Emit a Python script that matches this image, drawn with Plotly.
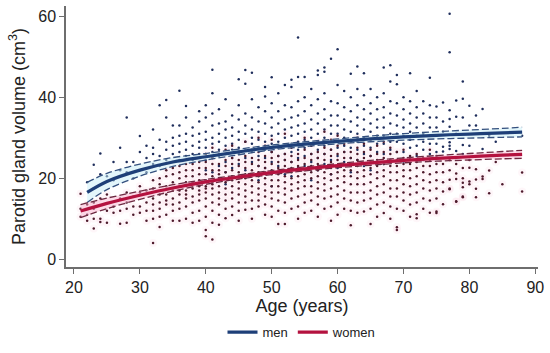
import plotly.graph_objects as go

# ---------------- data ----------------
men_points = [
    (22, [19]), (23, [23.3, 17.5]), (24, [26.1, 21]), (25, [20.5]), (26, [24, 19.5]),
    (27, [22, 27.5]), (28, [35, 21.5, 24]), (29, [24, 20]), (30, [30.4, 26.5, 22]),
    (31, [25, 21.5, 28]), (32, [32, 27.5, 23.5, 26]), (33, [38, 29.5, 25.5, 23]),
    (34, [39.3, 35, 27, 24.5, 29]), (35, [30, 28, 26, 24, 33]),
    (36, [41.6, 30.5, 28.5, 26.5, 24.5, 33]), (37, [37.8, 31, 29, 27, 25.5, 35]),
    (38, [30.5, 28, 26, 32.5, 24.5]), (39, [31, 29, 27.5, 26, 34, 36.5]),
    (40, [38, 35, 31.5, 29.5, 27.5, 26, 24.5, 22, 19.5]),
    (41, [46.8, 41, 36, 33, 30, 28.5, 26.5, 25, 21.5]),
    (42, [37, 33.5, 31, 29, 27, 25.5, 23, 20]),
    (43, [39.5, 34, 32, 30, 28, 26, 24, 21.5, 18.5]),
    (44, [35.5, 32.5, 30.5, 28.5, 27, 25, 22.5]),
    (45, [44.4, 38, 34.5, 31.5, 29.5, 27.5, 26, 23.5, 20.5]),
    (46, [46.7, 43.3, 36, 33, 31, 29, 27, 25, 22]),
    (47, [46, 39.5, 35, 32, 30, 28.5, 26.5, 24, 21]),
    (48, [37.5, 34, 31.5, 29.5, 27.5, 25.5, 23, 19.5]),
    (49, [42.5, 40.2, 36.5, 33.5, 31, 29, 27, 25, 22.5]),
    (50, [44.9, 38.5, 35, 32.5, 30.5, 28.5, 26.5, 24, 21.5, 18]),
    (51, [41, 36.5, 33.5, 31, 29, 27.5, 25.5, 23]),
    (52, [43, 38, 34.5, 32, 30, 28, 26, 24.5, 21]),
    (53, [44.3, 42.5, 37.5, 35, 32.5, 30.5, 28.5, 26.5, 24, 20.5]),
    (54, [54.7, 45, 39, 35.5, 33, 31, 29, 27, 25, 22.5]),
    (55, [45, 40, 36.5, 33.5, 31.5, 29.5, 27.5, 25.5, 23]),
    (56, [42, 38, 34.5, 32, 30, 28, 26, 24, 19.5]),
    (57, [46.6, 45.5, 39.5, 36, 33.5, 31, 29, 27, 25, 22]),
    (58, [47.3, 46.3, 41, 37, 34.5, 32, 30, 28, 26, 23.5]),
    (59, [49.5, 39, 35.5, 33, 31, 29, 27, 24.5, 21]),
    (60, [51.8, 43, 38.5, 35.5, 33, 31, 29, 27.5, 25.5, 22.5]),
    (61, [41.5, 37.5, 34.5, 32, 30, 28, 26.5, 24]),
    (62, [45.8, 40, 36.5, 34, 31.5, 29.5, 27.5, 25, 21.5]),
    (63, [47.6, 42, 38, 35, 33, 31, 29, 27, 24.5]),
    (64, [45.9, 40.5, 37, 34.5, 32, 30, 28, 26, 23]),
    (65, [42, 38.5, 36, 33.5, 31.5, 29.5, 27.5, 25.5, 22]),
    (66, [40, 37, 34.5, 32.5, 30.5, 28.5, 26.5, 24]),
    (67, [47.3, 41, 37.5, 35, 32.5, 30.5, 28.5, 26, 23.5]),
    (68, [47.9, 43.9, 39, 36, 33.5, 31, 29, 27, 24.5]),
    (69, [45.5, 43.2, 38.5, 35.5, 33, 31, 29, 26.5]),
    (70, [40, 37, 34.5, 32.5, 30.5, 28.5, 26.5, 24]),
    (71, [45.9, 39, 36, 33.5, 31.5, 29.5, 27.5, 25]),
    (72, [41.5, 37.5, 35, 32.5, 30.5, 28, 25.5]),
    (73, [39, 36, 33.5, 31, 29, 27, 24.5]),
    (74, [44.8, 38, 35, 32.5, 30.5, 28.5, 26]),
    (75, [37.7, 35, 32.5, 30.5, 28.5, 26.5]),
    (76, [38.7, 34, 31.5, 27.8, 26.6]),
    (77, [60.6, 51.1, 36.8, 34.6, 32.7, 28.9, 28, 27.2]),
    (78, [39.2, 35.2, 31, 26.7]),
    (79, [43.9, 39.6, 35, 28.2, 26]),
    (80, [37.9, 33, 28]), (81, [35.5, 33]), (82, [37.1, 27.2]),
    (83, [30.5]), (84, [29]), (88, [30.5]),
]

women_points = [
    (21, [16.2, 12.5, 10.5]), (22, [13.5, 11, 9.5]), (23, [7.6, 14, 12.5, 10]),
    (24, [15, 10, 9.2]), (25, [12, 9, 16]), (26, [13, 11.5]), (27, [15, 12, 8.8]),
    (28, [14, 9, 16.5, 12.5]), (29, [13, 15.5, 11]), (30, [16.5, 13, 11.5, 18]),
    (31, [14, 12, 17, 9.5]), (32, [4.0, 19.5, 15, 12, 10, 17.5, 13.5]),
    (33, [8, 10.5, 14, 16, 18.5, 12.5, 20]), (34, [11, 13.5, 16, 18, 20.5, 14.5, 22]),
    (35, [9.5, 12, 15, 17, 19, 21, 13.5, 22.5]),
    (36, [9.5, 12.5, 14, 16, 18, 20, 21.5, 23, 17]),
    (37, [10, 13, 15, 17, 19, 20.5, 22, 16, 23.5]),
    (38, [9, 11.5, 14, 15.5, 17.5, 19, 20.5, 22, 23.5, 18.5]),
    (39, [9.5, 12, 14.5, 16, 18, 19.5, 21, 22.5, 24, 17]),
    (40, [5.7, 7.2, 10.5, 13, 15, 16.5, 17.5, 18, 19.5, 21, 22.5, 24, 26]),
    (41, [4.9, 9, 12, 14, 16, 17.5, 18.5, 19, 20.5, 22, 23.5, 25, 27.5]),
    (42, [8.5, 11, 13.5, 15, 16.5, 18, 19.5, 21, 22, 23.5, 26]),
    (43, [10.1, 12.5, 14.5, 16, 17.5, 19, 20, 21.5, 23, 24.5, 27]),
    (44, [10.9, 13, 15, 16.5, 18, 19.5, 20.5, 22, 23.5, 25, 28]),
    (45, [9.5, 12, 14, 16, 17.5, 19, 20, 21.5, 23, 24.5, 26.5]),
    (46, [12.2, 14, 15.5, 17, 18.5, 20, 21, 22.5, 24, 25.5, 29]),
    (47, [10, 12.5, 14.5, 16.5, 18, 19.5, 21, 22, 23.5, 25, 27]),
    (48, [13, 14.5, 16, 17.5, 19, 20.5, 21.5, 23, 24.5, 26.5, 30]),
    (49, [11, 13.5, 15.5, 17, 18.5, 20, 21.5, 22.5, 24, 25.5, 28]),
    (50, [10.5, 13, 15, 16.5, 18, 19.5, 21, 22, 23.5, 25, 26.5, 29.5]),
    (51, [8.7, 12, 14.5, 16.5, 18, 19.5, 21, 22.5, 24, 25.5, 27.5]),
    (52, [8.7, 11.5, 14, 16, 17.5, 19, 20.5, 22, 23, 24.5, 26, 31]),
    (53, [12.5, 15, 17, 18.5, 20, 21.5, 22.5, 24, 25.5, 27.5]),
    (54, [10, 13, 15.5, 17.5, 19, 20.5, 22, 23, 24.5, 26, 28.5]),
    (55, [11.5, 14, 16, 18, 19.5, 21, 22, 23.5, 25, 27, 30]),
    (56, [12, 14.5, 16.5, 18, 20, 21.5, 23, 24.5, 26, 28]),
    (57, [10.5, 13.5, 15.5, 17.5, 19, 20.5, 22, 23.5, 25, 26.5, 29]),
    (58, [12.5, 15, 17, 18.5, 20, 21.5, 23, 24.5, 26, 27.5, 31.5]),
    (59, [9.5, 13, 15.5, 17.5, 19.5, 21, 22.5, 24, 25.5, 27, 29.5]),
    (60, [11, 14, 16, 18, 20, 21.5, 23, 24.5, 26, 28, 30.5]),
    (61, [12.5, 15, 17, 19, 20.5, 22, 23.5, 25, 26.5, 28.5]),
    (62, [8.4, 12, 14.5, 16.5, 18.5, 20.5, 22, 23.5, 25, 26.5, 29]),
    (63, [11.5, 14, 16.5, 18.5, 20, 21.5, 23, 24.5, 26, 27.5, 30]),
    (64, [11.8, 14.5, 16.5, 18.5, 20.5, 22, 23.5, 25, 26.5, 28.5]),
    (65, [8.7, 12.5, 15, 17, 19, 21, 22.5, 24, 25.5, 27, 29.5]),
    (66, [10.5, 13.5, 16, 18, 20, 21.5, 23, 24.5, 26, 28]),
    (67, [11.4, 14, 16.5, 18.5, 20.5, 22, 23.5, 25, 26.5, 29]),
    (68, [10, 13, 15.5, 17.5, 19.5, 21.5, 23, 24.5, 26, 27.5]),
    (69, [7.2, 7.9, 12.5, 15.5, 17.5, 19.5, 21.5, 23, 24.5, 26.5]),
    (70, [12, 14.5, 16.5, 18.5, 20.5, 22, 23.5, 25, 27]),
    (71, [10.5, 13.5, 16, 18, 20, 22, 23.5, 25.5]),
    (72, [10.1, 11.1, 14, 16.5, 18.5, 20.5, 22.5, 24, 26]),
    (73, [12.5, 15, 17.5, 19.5, 21.5, 23, 25]),
    (74, [11.5, 14.5, 17, 19, 21, 23, 24.5, 27]),
    (75, [11.4, 11.8, 15, 17.5, 19.5, 21.5, 23.5, 25.5]),
    (76, [13.6, 16.7, 19, 21.5, 23.5]),
    (77, [17.3, 17.5, 19.6, 22, 24.5]),
    (78, [14.2, 14.3, 19.8, 21.2, 23.5]),
    (79, [15.3, 15.5, 17.8, 18.9, 20, 22.5]),
    (80, [18.5, 19.2, 22.6, 24.5]),
    (81, [15.3, 17.4, 19.7, 22.2]),
    (82, [19.8, 20.4]), (83, [16.3, 21.9]), (84, [24]), (85, [18.5]),
    (88, [16.7, 21.4]),
]

# fitted curves and 95% confidence limits (read at selected ages)
men_fit_age = [22, 25, 30, 35, 40, 45, 50, 55, 60, 65, 70, 75, 80, 85, 88]
men_fit = [16.5, 19.2, 22.0, 24.0, 25.3, 26.5, 27.6, 28.4, 29.1, 29.7, 30.2, 30.6, 30.9, 31.2, 31.4]
men_lo = [14.0, 17.2, 20.5, 22.9, 24.5, 25.8, 27.0, 27.8, 28.5, 29.0, 29.4, 29.7, 29.9, 30.1, 30.2]
men_hi = [19.0, 21.2, 23.5, 25.1, 26.1, 27.2, 28.2, 29.0, 29.7, 30.4, 31.0, 31.5, 31.9, 32.3, 32.6]

women_fit_age = [21, 25, 30, 35, 40, 45, 50, 55, 60, 65, 70, 75, 80, 85, 88]
women_fit = [11.9, 13.8, 15.8, 17.6, 19.1, 20.3, 21.4, 22.3, 23.1, 23.8, 24.4, 24.9, 25.3, 25.7, 25.9]
women_lo = [10.3, 12.5, 14.8, 16.8, 18.5, 19.8, 20.9, 21.8, 22.6, 23.2, 23.8, 24.2, 24.5, 24.8, 24.9]
women_hi = [13.5, 15.1, 16.8, 18.4, 19.7, 20.8, 21.9, 22.8, 23.6, 24.4, 25.0, 25.6, 26.1, 26.6, 26.9]

x_ticks = [20, 30, 40, 50, 60, 70, 80, 90]
y_ticks = [0, 20, 40, 60]

# ---------------- styles ----------------
MEN_LINE = "#1e3f78"
WOMEN_LINE = "#b4123f"
MEN_DOT = "#1f2e5c"
WOMEN_DOT = "#4e1a2c"
FONT = "Liberation Sans, Arial, sans-serif"


def flatten(points):
    xs, ys = [], []
    for age, vols in points:
        for v in vols:
            xs.append(age)
            ys.append(v)
    return xs, ys


mx, my = flatten(men_points)
wx, wy = flatten(women_points)

fig = go.Figure()

# faint pink halo around women's points
fig.add_trace(go.Scatter(x=wx, y=wy, mode="markers", showlegend=False, hoverinfo="skip",
                         marker=dict(size=8, color="rgba(245,150,185,0.09)", line=dict(width=0))))

fig.add_trace(go.Scatter(x=mx, y=my, mode="markers", showlegend=False,
                         marker=dict(size=2.5, color=MEN_DOT, line=dict(width=0))))
fig.add_trace(go.Scatter(x=wx, y=wy, mode="markers", showlegend=False,
                         marker=dict(size=2.5, color=WOMEN_DOT, line=dict(width=0))))

# CI shading
fig.add_trace(go.Scatter(x=men_fit_age, y=men_lo, mode="lines", line=dict(width=0, shape="spline"),
                         showlegend=False, hoverinfo="skip"))
fig.add_trace(go.Scatter(x=men_fit_age, y=men_hi, mode="lines", line=dict(width=0, shape="spline"),
                         fill="tonexty", fillcolor="rgba(200,238,248,0.5)", showlegend=False, hoverinfo="skip"))
fig.add_trace(go.Scatter(x=women_fit_age, y=women_lo, mode="lines", line=dict(width=0, shape="spline"),
                         showlegend=False, hoverinfo="skip"))
fig.add_trace(go.Scatter(x=women_fit_age, y=women_hi, mode="lines", line=dict(width=0, shape="spline"),
                         fill="tonexty", fillcolor="rgba(250,175,205,0.45)", showlegend=False, hoverinfo="skip"))

# dashed CI lines
for ys in (men_lo, men_hi):
    fig.add_trace(go.Scatter(x=men_fit_age, y=ys, mode="lines", showlegend=False, hoverinfo="skip",
                             line=dict(color="#34507e", width=1.3, dash="7px,3px", shape="spline")))
for ys in (women_lo, women_hi):
    fig.add_trace(go.Scatter(x=women_fit_age, y=ys, mode="lines", showlegend=False, hoverinfo="skip",
                             line=dict(color="#6e2a42", width=1.3, dash="7px,3px", shape="spline")))

# fitted curves
fig.add_trace(go.Scatter(x=men_fit_age, y=men_fit, mode="lines", name="men",
                         line=dict(color=MEN_LINE, width=3.2, shape="spline")))
fig.add_trace(go.Scatter(x=women_fit_age, y=women_fit, mode="lines", name="women",
                         line=dict(color=WOMEN_LINE, width=3.2, shape="spline")))

axis_common = dict(showgrid=False, zeroline=False, showline=True, linecolor="#6e6e6e", linewidth=1.5,
                   ticks="outside", ticklen=5, tickwidth=1.2, tickcolor="#6e6e6e",
                   tickfont=dict(family=FONT, size=16, color="#222222"))

fig.update_layout(
    width=550, height=353,
    margin=dict(l=66, r=12, t=6, b=86, autoexpand=False),
    paper_bgcolor="white", plot_bgcolor="white",
    font=dict(family=FONT, color="#222222"),
    xaxis=dict(range=[18.79, 90.41], tickvals=x_ticks, ticktext=[str(t) for t in x_ticks],
               title=dict(text="Age (years)", font=dict(family=FONT, size=18, color="#222222"), standoff=4),
               **axis_common),
    yaxis=dict(range=[-1.9, 62.5], tickvals=y_ticks, ticktext=[str(t) for t in y_ticks],
               title=dict(text="Parotid gland volume (cm<sup>3</sup>)",
                          font=dict(family=FONT, size=18, color="#222222"), standoff=8),
               **axis_common),
    legend=dict(orientation="h", x=0.5, xanchor="center", y=-0.25, yanchor="middle",
                traceorder="normal", font=dict(family=FONT, size=13, color="#222222"), itemwidth=30,
                bgcolor="rgba(0,0,0,0)"),
    showlegend=True,
)

fig.write_html("out.html", config={"displayModeBar": False},
               post_script="document.body.style.margin='0';document.body.style.overflow='hidden';")
